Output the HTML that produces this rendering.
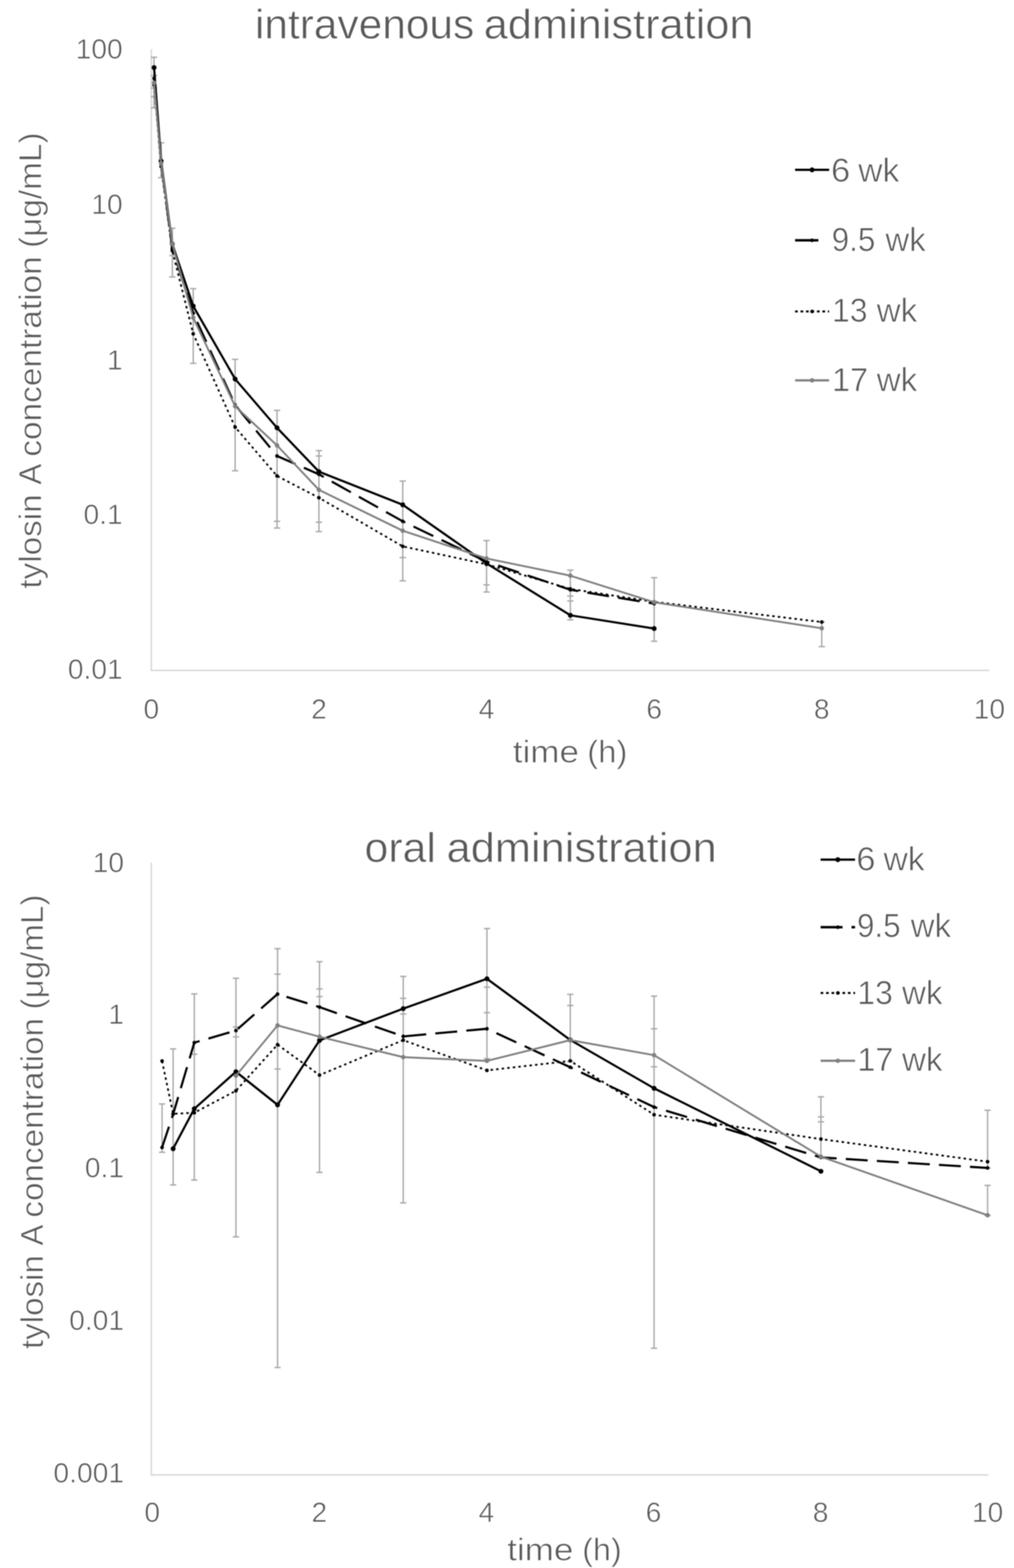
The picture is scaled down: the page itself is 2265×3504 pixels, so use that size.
<!DOCTYPE html>
<html><head><meta charset="utf-8"><title>tylosin A concentration</title>
<style>html,body{margin:0;padding:0;background:#fff;}svg{display:block;filter:blur(0.8px);}</style></head>
<body><svg width="2265" height="3504" viewBox="0 0 2265 3504">
<rect width="2265" height="3504" fill="#fff"/>
<line x1="338" y1="110" x2="338" y2="1498" stroke="#d9d9d9" stroke-width="3.5"/>
<line x1="336.5" y1="1498" x2="2210" y2="1498" stroke="#d9d9d9" stroke-width="3.5"/>
<line x1="344" y1="128" x2="344" y2="241" stroke="#a6a6a6" stroke-width="3"/>
<line x1="337" y1="128" x2="351" y2="128" stroke="#a6a6a6" stroke-width="3"/>
<line x1="337" y1="241" x2="351" y2="241" stroke="#a6a6a6" stroke-width="3"/>
<line x1="337" y1="169" x2="351" y2="169" stroke="#a6a6a6" stroke-width="3"/>
<line x1="337" y1="197" x2="351" y2="197" stroke="#a6a6a6" stroke-width="3"/>
<line x1="337" y1="216" x2="351" y2="216" stroke="#a6a6a6" stroke-width="3"/>
<line x1="360" y1="319" x2="360" y2="397" stroke="#a6a6a6" stroke-width="3"/>
<line x1="353" y1="319" x2="367" y2="319" stroke="#a6a6a6" stroke-width="3"/>
<line x1="353" y1="397" x2="367" y2="397" stroke="#a6a6a6" stroke-width="3"/>
<line x1="385" y1="510" x2="385" y2="619" stroke="#a6a6a6" stroke-width="3"/>
<line x1="378" y1="510" x2="392" y2="510" stroke="#a6a6a6" stroke-width="3"/>
<line x1="378" y1="619" x2="392" y2="619" stroke="#a6a6a6" stroke-width="3"/>
<line x1="378" y1="571" x2="392" y2="571" stroke="#a6a6a6" stroke-width="3"/>
<line x1="431.6" y1="645" x2="431.6" y2="812" stroke="#a6a6a6" stroke-width="3"/>
<line x1="424.6" y1="645" x2="438.6" y2="645" stroke="#a6a6a6" stroke-width="3"/>
<line x1="424.6" y1="812" x2="438.6" y2="812" stroke="#a6a6a6" stroke-width="3"/>
<line x1="525.2" y1="803" x2="525.2" y2="1052" stroke="#a6a6a6" stroke-width="3"/>
<line x1="518.2" y1="803" x2="532.2" y2="803" stroke="#a6a6a6" stroke-width="3"/>
<line x1="518.2" y1="1052" x2="532.2" y2="1052" stroke="#a6a6a6" stroke-width="3"/>
<line x1="618.8" y1="917" x2="618.8" y2="1180" stroke="#a6a6a6" stroke-width="3"/>
<line x1="611.8" y1="917" x2="625.8" y2="917" stroke="#a6a6a6" stroke-width="3"/>
<line x1="611.8" y1="1180" x2="625.8" y2="1180" stroke="#a6a6a6" stroke-width="3"/>
<line x1="611.8" y1="1165" x2="625.8" y2="1165" stroke="#a6a6a6" stroke-width="3"/>
<line x1="712.4" y1="1007" x2="712.4" y2="1188" stroke="#a6a6a6" stroke-width="3"/>
<line x1="705.4" y1="1007" x2="719.4" y2="1007" stroke="#a6a6a6" stroke-width="3"/>
<line x1="705.4" y1="1188" x2="719.4" y2="1188" stroke="#a6a6a6" stroke-width="3"/>
<line x1="705.4" y1="1019" x2="719.4" y2="1019" stroke="#a6a6a6" stroke-width="3"/>
<line x1="705.4" y1="1167" x2="719.4" y2="1167" stroke="#a6a6a6" stroke-width="3"/>
<line x1="899.6" y1="1075" x2="899.6" y2="1298" stroke="#a6a6a6" stroke-width="3"/>
<line x1="892.6" y1="1075" x2="906.6" y2="1075" stroke="#a6a6a6" stroke-width="3"/>
<line x1="892.6" y1="1298" x2="906.6" y2="1298" stroke="#a6a6a6" stroke-width="3"/>
<line x1="892.6" y1="1246" x2="906.6" y2="1246" stroke="#a6a6a6" stroke-width="3"/>
<line x1="1086.8" y1="1208" x2="1086.8" y2="1323" stroke="#a6a6a6" stroke-width="3"/>
<line x1="1079.8" y1="1208" x2="1093.8" y2="1208" stroke="#a6a6a6" stroke-width="3"/>
<line x1="1079.8" y1="1323" x2="1093.8" y2="1323" stroke="#a6a6a6" stroke-width="3"/>
<line x1="1079.8" y1="1307" x2="1093.8" y2="1307" stroke="#a6a6a6" stroke-width="3"/>
<line x1="1274" y1="1274" x2="1274" y2="1385" stroke="#a6a6a6" stroke-width="3"/>
<line x1="1267" y1="1274" x2="1281" y2="1274" stroke="#a6a6a6" stroke-width="3"/>
<line x1="1267" y1="1385" x2="1281" y2="1385" stroke="#a6a6a6" stroke-width="3"/>
<line x1="1267" y1="1332" x2="1281" y2="1332" stroke="#a6a6a6" stroke-width="3"/>
<line x1="1267" y1="1343" x2="1281" y2="1343" stroke="#a6a6a6" stroke-width="3"/>
<line x1="1461.2" y1="1291" x2="1461.2" y2="1433" stroke="#a6a6a6" stroke-width="3"/>
<line x1="1454.2" y1="1291" x2="1468.2" y2="1291" stroke="#a6a6a6" stroke-width="3"/>
<line x1="1454.2" y1="1433" x2="1468.2" y2="1433" stroke="#a6a6a6" stroke-width="3"/>
<line x1="1835.6" y1="1390" x2="1835.6" y2="1445" stroke="#a6a6a6" stroke-width="3"/>
<line x1="1828.6" y1="1390" x2="1842.6" y2="1390" stroke="#a6a6a6" stroke-width="3"/>
<line x1="1828.6" y1="1445" x2="1842.6" y2="1445" stroke="#a6a6a6" stroke-width="3"/>
<polyline points="344.2,151.0 359.9,360.0 384.8,545.0 431.6,684.0 525.2,847.0 618.8,956.0 712.4,1054.0 899.6,1128.0 1086.8,1259.0 1274.0,1375.0 1461.2,1404.6" fill="none" stroke="#000000" stroke-width="4.8" stroke-linejoin="round" stroke-linecap="round"/>
<circle cx="344.2" cy="151.0" r="5.5" fill="#000000"/>
<circle cx="359.9" cy="360.0" r="5.5" fill="#000000"/>
<circle cx="384.8" cy="545.0" r="5.5" fill="#000000"/>
<circle cx="431.6" cy="684.0" r="5.5" fill="#000000"/>
<circle cx="525.2" cy="847.0" r="5.5" fill="#000000"/>
<circle cx="618.8" cy="956.0" r="5.5" fill="#000000"/>
<circle cx="712.4" cy="1054.0" r="5.5" fill="#000000"/>
<circle cx="899.6" cy="1128.0" r="5.5" fill="#000000"/>
<circle cx="1086.8" cy="1259.0" r="5.5" fill="#000000"/>
<circle cx="1274.0" cy="1375.0" r="5.5" fill="#000000"/>
<circle cx="1461.2" cy="1404.6" r="5.5" fill="#000000"/>
<polyline points="344.2,175.0 359.9,365.0 384.8,555.0 431.6,700.0 525.2,905.0 618.8,1019.0 712.4,1060.0 899.6,1165.0 1086.8,1255.0 1274.0,1318.0 1461.2,1349.0" fill="none" stroke="#000000" stroke-width="4.8" stroke-linejoin="round" stroke-linecap="butt" stroke-dasharray="49 20.5"/>
<circle cx="344.2" cy="175.0" r="4" fill="#000000"/>
<circle cx="359.9" cy="365.0" r="4" fill="#000000"/>
<circle cx="384.8" cy="555.0" r="4" fill="#000000"/>
<circle cx="431.6" cy="700.0" r="4" fill="#000000"/>
<circle cx="525.2" cy="905.0" r="4" fill="#000000"/>
<circle cx="618.8" cy="1019.0" r="4" fill="#000000"/>
<circle cx="712.4" cy="1060.0" r="4" fill="#000000"/>
<circle cx="899.6" cy="1165.0" r="4" fill="#000000"/>
<circle cx="1086.8" cy="1255.0" r="4" fill="#000000"/>
<circle cx="1274.0" cy="1318.0" r="4" fill="#000000"/>
<circle cx="1461.2" cy="1349.0" r="4" fill="#000000"/>
<polyline points="344.2,190.0 359.9,372.0 384.8,560.0 431.6,746.0 525.2,954.5 618.8,1063.6 712.4,1112.3 899.6,1221.0 1086.8,1261.0 1274.0,1316.0 1461.2,1345.0 1835.6,1390.0" fill="none" stroke="#000000" stroke-width="4" stroke-linejoin="round" stroke-linecap="butt" stroke-dasharray="5.5 7"/>
<circle cx="344.2" cy="190.0" r="4" fill="#000000"/>
<circle cx="359.9" cy="372.0" r="4" fill="#000000"/>
<circle cx="384.8" cy="560.0" r="4" fill="#000000"/>
<circle cx="431.6" cy="746.0" r="4" fill="#000000"/>
<circle cx="525.2" cy="954.5" r="4" fill="#000000"/>
<circle cx="618.8" cy="1063.6" r="4" fill="#000000"/>
<circle cx="712.4" cy="1112.3" r="4" fill="#000000"/>
<circle cx="899.6" cy="1221.0" r="4" fill="#000000"/>
<circle cx="1086.8" cy="1261.0" r="4" fill="#000000"/>
<circle cx="1274.0" cy="1316.0" r="4" fill="#000000"/>
<circle cx="1461.2" cy="1345.0" r="4" fill="#000000"/>
<circle cx="1835.6" cy="1390.0" r="4" fill="#000000"/>
<polyline points="344.2,185.0 359.9,365.0 384.8,545.0 431.6,710.0 525.2,907.8 618.8,995.4 712.4,1094.7 899.6,1186.0 1086.8,1248.0 1274.0,1286.4 1461.2,1345.8 1835.6,1404.0" fill="none" stroke="#808080" stroke-width="4.2" stroke-linejoin="round" stroke-linecap="round"/>
<circle cx="344.2" cy="185.0" r="5" fill="#808080"/>
<circle cx="359.9" cy="365.0" r="5" fill="#808080"/>
<circle cx="384.8" cy="545.0" r="5" fill="#808080"/>
<circle cx="431.6" cy="710.0" r="5" fill="#808080"/>
<circle cx="525.2" cy="907.8" r="5" fill="#808080"/>
<circle cx="618.8" cy="995.4" r="5" fill="#808080"/>
<circle cx="712.4" cy="1094.7" r="5" fill="#808080"/>
<circle cx="899.6" cy="1186.0" r="5" fill="#808080"/>
<circle cx="1086.8" cy="1248.0" r="5" fill="#808080"/>
<circle cx="1274.0" cy="1286.4" r="5" fill="#808080"/>
<circle cx="1461.2" cy="1345.8" r="5" fill="#808080"/>
<circle cx="1835.6" cy="1404.0" r="5" fill="#808080"/>
<line x1="338" y1="1928" x2="338" y2="3296" stroke="#d9d9d9" stroke-width="3.5"/>
<line x1="336.5" y1="3296" x2="2208" y2="3296" stroke="#d9d9d9" stroke-width="3.5"/>
<line x1="362" y1="2467" x2="362" y2="2575" stroke="#a6a6a6" stroke-width="3"/>
<line x1="355" y1="2467" x2="369" y2="2467" stroke="#a6a6a6" stroke-width="3"/>
<line x1="355" y1="2575" x2="369" y2="2575" stroke="#a6a6a6" stroke-width="3"/>
<line x1="386.7" y1="2344" x2="386.7" y2="2648" stroke="#a6a6a6" stroke-width="3"/>
<line x1="379.7" y1="2344" x2="393.7" y2="2344" stroke="#a6a6a6" stroke-width="3"/>
<line x1="379.7" y1="2648" x2="393.7" y2="2648" stroke="#a6a6a6" stroke-width="3"/>
<line x1="434" y1="2221" x2="434" y2="2637" stroke="#a6a6a6" stroke-width="3"/>
<line x1="427" y1="2221" x2="441" y2="2221" stroke="#a6a6a6" stroke-width="3"/>
<line x1="427" y1="2637" x2="441" y2="2637" stroke="#a6a6a6" stroke-width="3"/>
<line x1="427" y1="2356" x2="441" y2="2356" stroke="#a6a6a6" stroke-width="3"/>
<line x1="527" y1="2186" x2="527" y2="2764" stroke="#a6a6a6" stroke-width="3"/>
<line x1="520" y1="2186" x2="534" y2="2186" stroke="#a6a6a6" stroke-width="3"/>
<line x1="520" y1="2764" x2="534" y2="2764" stroke="#a6a6a6" stroke-width="3"/>
<line x1="520" y1="2295" x2="534" y2="2295" stroke="#a6a6a6" stroke-width="3"/>
<line x1="520" y1="2317" x2="534" y2="2317" stroke="#a6a6a6" stroke-width="3"/>
<line x1="620" y1="2120" x2="620" y2="3056" stroke="#a6a6a6" stroke-width="3"/>
<line x1="613" y1="2120" x2="627" y2="2120" stroke="#a6a6a6" stroke-width="3"/>
<line x1="613" y1="3056" x2="627" y2="3056" stroke="#a6a6a6" stroke-width="3"/>
<line x1="613" y1="2177" x2="627" y2="2177" stroke="#a6a6a6" stroke-width="3"/>
<line x1="613" y1="2389" x2="627" y2="2389" stroke="#a6a6a6" stroke-width="3"/>
<line x1="713.7" y1="2149" x2="713.7" y2="2620" stroke="#a6a6a6" stroke-width="3"/>
<line x1="706.7" y1="2149" x2="720.7" y2="2149" stroke="#a6a6a6" stroke-width="3"/>
<line x1="706.7" y1="2620" x2="720.7" y2="2620" stroke="#a6a6a6" stroke-width="3"/>
<line x1="706.7" y1="2210" x2="720.7" y2="2210" stroke="#a6a6a6" stroke-width="3"/>
<line x1="706.7" y1="2227" x2="720.7" y2="2227" stroke="#a6a6a6" stroke-width="3"/>
<line x1="900.7" y1="2182" x2="900.7" y2="2688" stroke="#a6a6a6" stroke-width="3"/>
<line x1="893.7" y1="2182" x2="907.7" y2="2182" stroke="#a6a6a6" stroke-width="3"/>
<line x1="893.7" y1="2688" x2="907.7" y2="2688" stroke="#a6a6a6" stroke-width="3"/>
<line x1="893.7" y1="2231" x2="907.7" y2="2231" stroke="#a6a6a6" stroke-width="3"/>
<line x1="893.7" y1="2266" x2="907.7" y2="2266" stroke="#a6a6a6" stroke-width="3"/>
<line x1="1087.7" y1="2075" x2="1087.7" y2="2366" stroke="#a6a6a6" stroke-width="3"/>
<line x1="1080.7" y1="2075" x2="1094.7" y2="2075" stroke="#a6a6a6" stroke-width="3"/>
<line x1="1080.7" y1="2366" x2="1094.7" y2="2366" stroke="#a6a6a6" stroke-width="3"/>
<line x1="1080.7" y1="2206" x2="1094.7" y2="2206" stroke="#a6a6a6" stroke-width="3"/>
<line x1="1080.7" y1="2263" x2="1094.7" y2="2263" stroke="#a6a6a6" stroke-width="3"/>
<line x1="1273.8" y1="2222" x2="1273.8" y2="2372" stroke="#a6a6a6" stroke-width="3"/>
<line x1="1266.8" y1="2222" x2="1280.8" y2="2222" stroke="#a6a6a6" stroke-width="3"/>
<line x1="1266.8" y1="2372" x2="1280.8" y2="2372" stroke="#a6a6a6" stroke-width="3"/>
<line x1="1266.8" y1="2247" x2="1280.8" y2="2247" stroke="#a6a6a6" stroke-width="3"/>
<line x1="1461" y1="2226" x2="1461" y2="3013" stroke="#a6a6a6" stroke-width="3"/>
<line x1="1454" y1="2226" x2="1468" y2="2226" stroke="#a6a6a6" stroke-width="3"/>
<line x1="1454" y1="3013" x2="1468" y2="3013" stroke="#a6a6a6" stroke-width="3"/>
<line x1="1454" y1="2299" x2="1468" y2="2299" stroke="#a6a6a6" stroke-width="3"/>
<line x1="1454" y1="2384" x2="1468" y2="2384" stroke="#a6a6a6" stroke-width="3"/>
<line x1="1833.7" y1="2451" x2="1833.7" y2="2587" stroke="#a6a6a6" stroke-width="3"/>
<line x1="1826.7" y1="2451" x2="1840.7" y2="2451" stroke="#a6a6a6" stroke-width="3"/>
<line x1="1826.7" y1="2587" x2="1840.7" y2="2587" stroke="#a6a6a6" stroke-width="3"/>
<line x1="1826.7" y1="2496" x2="1840.7" y2="2496" stroke="#a6a6a6" stroke-width="3"/>
<line x1="1826.7" y1="2507" x2="1840.7" y2="2507" stroke="#a6a6a6" stroke-width="3"/>
<line x1="2206" y1="2481" x2="2206" y2="2610" stroke="#a6a6a6" stroke-width="3"/>
<line x1="2199" y1="2481" x2="2213" y2="2481" stroke="#a6a6a6" stroke-width="3"/>
<line x1="2199" y1="2610" x2="2213" y2="2610" stroke="#a6a6a6" stroke-width="3"/>
<line x1="2206" y1="2649" x2="2206" y2="2716" stroke="#a6a6a6" stroke-width="3"/>
<line x1="2199" y1="2649" x2="2213" y2="2649" stroke="#a6a6a6" stroke-width="3"/>
<line x1="2199" y1="2716" x2="2213" y2="2716" stroke="#a6a6a6" stroke-width="3"/>
<polyline points="386.7,2567.0 434.0,2477.7 527.0,2395.0 620.0,2469.0 713.7,2325.0 900.7,2254.0 1087.7,2187.2 1273.8,2324.0 1461.0,2432.0 1833.7,2617.4" fill="none" stroke="#000000" stroke-width="4.8" stroke-linejoin="round" stroke-linecap="round"/>
<circle cx="386.7" cy="2567.0" r="5.5" fill="#000000"/>
<circle cx="434.0" cy="2477.7" r="5.5" fill="#000000"/>
<circle cx="527.0" cy="2395.0" r="5.5" fill="#000000"/>
<circle cx="620.0" cy="2469.0" r="5.5" fill="#000000"/>
<circle cx="713.7" cy="2325.0" r="5.5" fill="#000000"/>
<circle cx="900.7" cy="2254.0" r="5.5" fill="#000000"/>
<circle cx="1087.7" cy="2187.2" r="5.5" fill="#000000"/>
<circle cx="1273.8" cy="2324.0" r="5.5" fill="#000000"/>
<circle cx="1461.0" cy="2432.0" r="5.5" fill="#000000"/>
<circle cx="1833.7" cy="2617.4" r="5.5" fill="#000000"/>
<polyline points="362.0,2564.3 386.7,2490.0 434.0,2330.0 527.0,2303.0 620.0,2221.4 713.7,2250.6 900.7,2316.0 1087.7,2299.0 1273.8,2385.0 1461.0,2474.0 1833.7,2586.5 2206.0,2610.0" fill="none" stroke="#000000" stroke-width="4.8" stroke-linejoin="round" stroke-linecap="butt" stroke-dasharray="49 20.5"/>
<circle cx="362.0" cy="2564.3" r="4" fill="#000000"/>
<circle cx="386.7" cy="2490.0" r="4" fill="#000000"/>
<circle cx="434.0" cy="2330.0" r="4" fill="#000000"/>
<circle cx="527.0" cy="2303.0" r="4" fill="#000000"/>
<circle cx="620.0" cy="2221.4" r="4" fill="#000000"/>
<circle cx="713.7" cy="2250.6" r="4" fill="#000000"/>
<circle cx="900.7" cy="2316.0" r="4" fill="#000000"/>
<circle cx="1087.7" cy="2299.0" r="4" fill="#000000"/>
<circle cx="1273.8" cy="2385.0" r="4" fill="#000000"/>
<circle cx="1461.0" cy="2474.0" r="4" fill="#000000"/>
<circle cx="1833.7" cy="2586.5" r="4" fill="#000000"/>
<circle cx="2206.0" cy="2610.0" r="4" fill="#000000"/>
<polyline points="362.0,2371.0 386.7,2489.0 434.0,2486.7 527.0,2437.5 620.0,2334.4 713.7,2402.6 900.7,2324.4 1087.7,2392.0 1273.8,2370.8 1461.0,2491.0 1833.7,2545.5 2206.0,2596.0" fill="none" stroke="#000000" stroke-width="4" stroke-linejoin="round" stroke-linecap="butt" stroke-dasharray="5.5 7"/>
<circle cx="362.0" cy="2371.0" r="4" fill="#000000"/>
<circle cx="386.7" cy="2489.0" r="4" fill="#000000"/>
<circle cx="434.0" cy="2486.7" r="4" fill="#000000"/>
<circle cx="527.0" cy="2437.5" r="4" fill="#000000"/>
<circle cx="620.0" cy="2334.4" r="4" fill="#000000"/>
<circle cx="713.7" cy="2402.6" r="4" fill="#000000"/>
<circle cx="900.7" cy="2324.4" r="4" fill="#000000"/>
<circle cx="1087.7" cy="2392.0" r="4" fill="#000000"/>
<circle cx="1273.8" cy="2370.8" r="4" fill="#000000"/>
<circle cx="1461.0" cy="2491.0" r="4" fill="#000000"/>
<circle cx="1833.7" cy="2545.5" r="4" fill="#000000"/>
<circle cx="2206.0" cy="2596.0" r="4" fill="#000000"/>
<polyline points="527.0,2404.0 620.0,2291.5 713.7,2316.8 900.7,2362.4 1087.7,2370.8 1273.8,2324.4 1461.0,2358.0 1833.7,2584.8 2206.0,2715.7" fill="none" stroke="#808080" stroke-width="4.2" stroke-linejoin="round" stroke-linecap="round"/>
<circle cx="527.0" cy="2404.0" r="5" fill="#808080"/>
<circle cx="620.0" cy="2291.5" r="5" fill="#808080"/>
<circle cx="713.7" cy="2316.8" r="5" fill="#808080"/>
<circle cx="900.7" cy="2362.4" r="5" fill="#808080"/>
<circle cx="1087.7" cy="2370.8" r="5" fill="#808080"/>
<circle cx="1273.8" cy="2324.4" r="5" fill="#808080"/>
<circle cx="1461.0" cy="2358.0" r="5" fill="#808080"/>
<circle cx="1833.7" cy="2584.8" r="5" fill="#808080"/>
<circle cx="2206.0" cy="2715.7" r="5" fill="#808080"/>
<g fill="#595959" font-family="'Liberation Sans', Arial, sans-serif" stroke="#fff" stroke-width="1.2">
<text x="569.47" y="86" font-size="93" textLength="489.92" lengthAdjust="spacingAndGlyphs">intravenous</text>
<text x="1080.49" y="86" font-size="93" textLength="602.73" lengthAdjust="spacingAndGlyphs">administration</text>
<text x="814.36" y="1926" font-size="93" textLength="159.31" lengthAdjust="spacingAndGlyphs">oral</text>
<text x="997.49" y="1926" font-size="93" textLength="603.34" lengthAdjust="spacingAndGlyphs">administration</text>
<text x="274" y="130.5" font-size="63" text-anchor="end">100</text>
<text x="274" y="477.5" font-size="63" text-anchor="end">10</text>
<text x="274" y="825.5" font-size="63" text-anchor="end">1</text>
<text x="274" y="1171" font-size="63" text-anchor="end">0.1</text>
<text x="274" y="1517" font-size="63" text-anchor="end">0.01</text>
<text x="277" y="1949" font-size="63" text-anchor="end">10</text>
<text x="277" y="2288" font-size="63" text-anchor="end">1</text>
<text x="277" y="2631" font-size="63" text-anchor="end">0.1</text>
<text x="277" y="2972" font-size="63" text-anchor="end">0.01</text>
<text x="277" y="3313" font-size="63" text-anchor="end">0.001</text>
<text x="338.0" y="1606" font-size="63" text-anchor="middle">0</text>
<text x="340.1" y="3401" font-size="63" text-anchor="middle">0</text>
<text x="712.4" y="1606" font-size="63" text-anchor="middle">2</text>
<text x="713.3" y="3401" font-size="63" text-anchor="middle">2</text>
<text x="1086.8" y="1606" font-size="63" text-anchor="middle">4</text>
<text x="1086.5" y="3401" font-size="63" text-anchor="middle">4</text>
<text x="1461.2" y="1606" font-size="63" text-anchor="middle">6</text>
<text x="1459.7" y="3401" font-size="63" text-anchor="middle">6</text>
<text x="1835.6" y="1606" font-size="63" text-anchor="middle">8</text>
<text x="1832.9" y="3401" font-size="63" text-anchor="middle">8</text>
<text x="2210.0" y="1606" font-size="63" text-anchor="middle">10</text>
<text x="2206.1" y="3401" font-size="63" text-anchor="middle">10</text>
<text x="1145.46" y="1703.5" font-size="70" textLength="147.89" lengthAdjust="spacingAndGlyphs">time</text>
<text x="1311.77" y="1703.5" font-size="70" textLength="89.56" lengthAdjust="spacingAndGlyphs">(h)</text>
<text x="1132.96" y="3486.5" font-size="70" textLength="147.89" lengthAdjust="spacingAndGlyphs">time</text>
<text x="1300.55" y="3486.5" font-size="70" textLength="88.19" lengthAdjust="spacingAndGlyphs">(h)</text>
<text transform="translate(91.7,1313.3) rotate(-90)" x="-2.12" y="0" font-size="70" textLength="210.78" lengthAdjust="spacingAndGlyphs">tylosin</text>
<text transform="translate(91.7,1313.3) rotate(-90)" x="230.08" y="0" font-size="70" textLength="47.25" lengthAdjust="spacingAndGlyphs">A</text>
<text transform="translate(91.7,1313.3) rotate(-90)" x="292.84" y="0" font-size="70" textLength="447.69" lengthAdjust="spacingAndGlyphs">concentration</text>
<text transform="translate(91.7,1313.3) rotate(-90)" x="759.39" y="0" font-size="70" textLength="257.84" lengthAdjust="spacingAndGlyphs">(&#956;g/mL)</text>
<text transform="translate(95.5,3012.7) rotate(-90)" x="-2.12" y="0" font-size="70" textLength="210.03" lengthAdjust="spacingAndGlyphs">tylosin</text>
<text transform="translate(95.5,3012.7) rotate(-90)" x="229.26" y="0" font-size="70" textLength="47.08" lengthAdjust="spacingAndGlyphs">A</text>
<text transform="translate(95.5,3012.7) rotate(-90)" x="291.80" y="0" font-size="70" textLength="446.09" lengthAdjust="spacingAndGlyphs">concentration</text>
<text transform="translate(95.5,3012.7) rotate(-90)" x="756.68" y="0" font-size="70" textLength="256.93" lengthAdjust="spacingAndGlyphs">(&#956;g/mL)</text>
</g>
<line x1="1776" y1="379.6" x2="1852" y2="379.6" stroke="#000000" stroke-width="5"/>
<circle cx="1814.0" cy="379.6" r="5.5" fill="#000000"/>
<line x1="1776" y1="537" x2="1852" y2="537" stroke="#000000" stroke-width="5.5" stroke-dasharray="52 30"/>
<circle cx="1814.0" cy="537" r="4" fill="#000000"/>
<line x1="1776" y1="696" x2="1852" y2="696" stroke="#000000" stroke-width="4.5" stroke-dasharray="6 6.2"/>
<circle cx="1814.0" cy="696" r="4" fill="#000000"/>
<line x1="1776" y1="850" x2="1852" y2="850" stroke="#808080" stroke-width="5"/>
<circle cx="1814.0" cy="850" r="5" fill="#808080"/>
<g fill="#595959" font-family="'Liberation Sans', Arial, sans-serif" stroke="#fff" stroke-width="1.2">
<text x="1856.30" y="405.7" font-size="74" textLength="42.83" lengthAdjust="spacingAndGlyphs">6</text>
<text x="1916.98" y="405.7" font-size="74" textLength="91.99" lengthAdjust="spacingAndGlyphs">wk</text>
<text x="1857.71" y="561" font-size="74" textLength="97.46" lengthAdjust="spacingAndGlyphs">9.5</text>
<text x="1977.80" y="561" font-size="74" textLength="90.04" lengthAdjust="spacingAndGlyphs">wk</text>
<text x="1858.62" y="719" font-size="74" textLength="79.23" lengthAdjust="spacingAndGlyphs">13</text>
<text x="1958.30" y="719" font-size="74" textLength="90.56" lengthAdjust="spacingAndGlyphs">wk</text>
<text x="1858.52" y="873.6" font-size="74" textLength="80.71" lengthAdjust="spacingAndGlyphs">17</text>
<text x="1958.30" y="873.6" font-size="74" textLength="90.56" lengthAdjust="spacingAndGlyphs">wk</text>
</g>
<line x1="1833" y1="1921" x2="1910" y2="1921" stroke="#000000" stroke-width="5"/>
<circle cx="1871.5" cy="1921" r="5.5" fill="#000000"/>
<line x1="1833" y1="2072" x2="1910" y2="2072" stroke="#000000" stroke-width="5.5" stroke-dasharray="49 20"/>
<circle cx="1871.5" cy="2072" r="4" fill="#000000"/>
<line x1="1833" y1="2219" x2="1910" y2="2219" stroke="#000000" stroke-width="4.5" stroke-dasharray="6 6.2"/>
<circle cx="1871.5" cy="2219" r="4" fill="#000000"/>
<line x1="1833" y1="2370.5" x2="1910" y2="2370.5" stroke="#808080" stroke-width="5"/>
<circle cx="1871.5" cy="2370.5" r="5" fill="#808080"/>
<g fill="#595959" font-family="'Liberation Sans', Arial, sans-serif" stroke="#fff" stroke-width="1.2">
<text x="1912.80" y="1945.3" font-size="74" textLength="42.83" lengthAdjust="spacingAndGlyphs">6</text>
<text x="1973.48" y="1945.3" font-size="74" textLength="91.99" lengthAdjust="spacingAndGlyphs">wk</text>
<text x="1914.21" y="2093.8" font-size="74" textLength="97.46" lengthAdjust="spacingAndGlyphs">9.5</text>
<text x="2034.30" y="2093.8" font-size="74" textLength="90.04" lengthAdjust="spacingAndGlyphs">wk</text>
<text x="1915.12" y="2243.5" font-size="74" textLength="79.23" lengthAdjust="spacingAndGlyphs">13</text>
<text x="2014.80" y="2243.5" font-size="74" textLength="90.56" lengthAdjust="spacingAndGlyphs">wk</text>
<text x="1915.02" y="2393" font-size="74" textLength="80.71" lengthAdjust="spacingAndGlyphs">17</text>
<text x="2014.80" y="2393" font-size="74" textLength="90.56" lengthAdjust="spacingAndGlyphs">wk</text>
</g>
</svg></body></html>
